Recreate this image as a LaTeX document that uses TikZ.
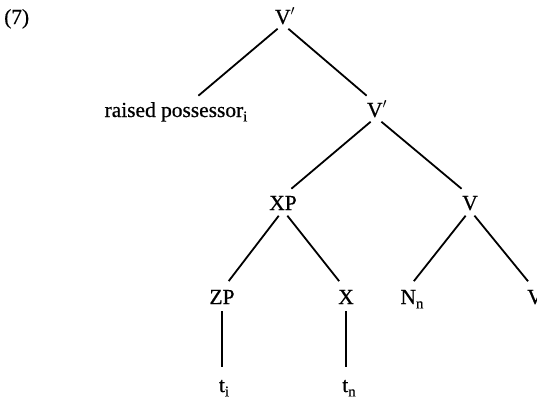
\documentclass[tikz,border=0pt]{standalone}
\usepackage{fontspec}
\setmainfont[FakeBold=0.6]{Liberation Serif}
\usetikzlibrary{calc}
\newcommand{\sbs}[1]{\raisebox{-0.45ex}{\fontsize{15}{15}\selectfont #1}}
\newcommand{\prm}{\raisebox{0.1ex}{$'$}}
\begin{document}
\begin{tikzpicture}[x=1bp,y=-1bp,
  lab/.style={font=\fontsize{21.5}{24}\selectfont, inner sep=0pt, text height=14bp, text depth=0pt, anchor=base},
  br/.style={line width=1.8bp, shorten <=7bp, shorten >=11bp}]
\useasboundingbox (0,0) rectangle (537,405);
\node[lab, anchor=base west] (num) at (4,24) {(7)};
\node[lab] (top) at (285,24) {V\prm};
\node[lab] (rp) at (176,117) {raised possessor\sbs{i}};
\node[lab] (v2) at (377,117) {V\prm};
\node[lab] (xp) at (283,210) {XP};
\node[lab] (v) at (470,210) {V};
\node[lab] (zp) at (222,304) {ZP};
\node[lab] (x) at (346,304) {X};
\node[lab] (nn) at (412,304) {N\sbs{n}};
\node[lab] (vv) at (535,304) {V};
\node[lab] (ti) at (224,392) {t\sbs{i}};
\node[lab] (tn) at (349,392) {t\sbs{n}};
\draw[br] ($(top.south)+(-2,0)$) -- ($(rp.north)+(14,0)$);
\draw[br] ($(top.south)+(-2,0)$) -- ($(v2.north)+(-2,0)$);
\draw[br] ($(v2.south)+(-1,0)$) -- (xp.north);
\draw[br] ($(v2.south)+(-1,0)$) -- (v.north);
\draw[br] (xp.south) -- (zp.north);
\draw[br] (xp.south) -- (x.north);
\draw[br] (v.south) -- ($(nn.north)+(-5,0)$);
\draw[br] (v.south) -- (vv.north);
\draw[br] (zp.south) -- ($(ti.north)+(-2,0)$);
\draw[br] (x.south) -- ($(tn.north)+(-3,0)$);
\end{tikzpicture}
\end{document}
